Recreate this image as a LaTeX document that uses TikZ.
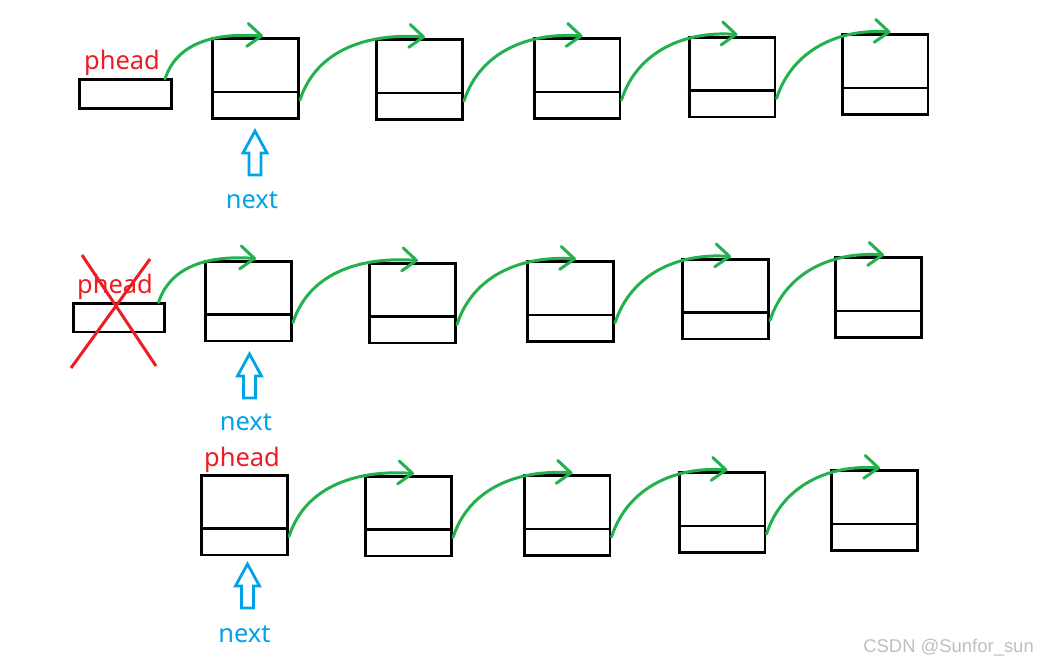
\documentclass[tikz,border=0pt]{standalone}
\usepackage{fontspec}
\setmainfont{Noto Sans}
\newfontfamily\markfont{Liberation Sans}
\usetikzlibrary{arrows.meta, positioning, calc}
\definecolor{linkgreen}{RGB}{34,177,76}
\definecolor{headred}{RGB}{237,28,36}
\definecolor{ptrblue}{RGB}{0,162,232}
\definecolor{markgray}{RGB}{190,190,190}

\tikzset{
  listnode/.style={draw, line width=1.7pt, minimum width=1.72cm, minimum height=1.6cm, inner sep=0pt},
  headbox/.style={draw, line width=1.7pt, minimum width=1.84cm, minimum height=0.58cm, inner sep=0pt},
  divline/.style={line width=1.6pt},
  link/.style={linkgreen, line width=1.7pt, line cap=round, -{Straight Barb[length=8pt,width=13pt,round]}},
  headlabel/.style={headred, font=\fontsize{14.5}{16}\selectfont, inner sep=0pt},
  ptrlabel/.style={ptrblue, font=\fontsize{14.5}{16}\selectfont, inner sep=0pt},
  cross/.style={headred, line width=1.7pt},
  pics/upptr/.style={code={
    \draw[ptrblue, line width=1.6pt, line join=miter]
      (0,0) -- (12,-22) -- (6,-22) -- (6,-44) -- (-6,-44) -- (-6,-22) -- (-12,-22) -- cycle;
  }}
}

\begin{document}
\begin{tikzpicture}[x=0.02cm, y=0.02cm]
  \useasboundingbox (0,0) rectangle (1049,-663);

  % row 1: the list with phead
  \node[headbox] (h1) at (125.5,-94) {};
  \node[headlabel, anchor=base] (t1) at (122,-69) {phead};
  \node[listnode] (n11) at (255.5,-78.5) {};
  \node[listnode] (n12) at (419.5,-79.5) {};
  \node[listnode] (n13) at (577,-78.5) {};
  \node[listnode] (n14) at (732,-77) {};
  \node[listnode] (n15) at (885,-74.5) {};
  \pic at (255,-131) {upptr};
  \node[ptrlabel, anchor=base] (q1) at (252,-208) {next};

  % row 2: phead is freed
  \node[headbox] (h2) at (119,-317.5) {};
  \node[headlabel, anchor=base] (t2) at (115,-293) {phead};
  \node[listnode] (n21) at (248.5,-301) {};
  \node[listnode] (n22) at (412.5,-303) {};
  \node[listnode] (n23) at (570.5,-301.5) {};
  \node[listnode] (n24) at (725.5,-299) {};
  \node[listnode] (n25) at (878.5,-297.5) {};
  \pic at (249.5,-354) {upptr};
  \node[ptrlabel, anchor=base] (q2) at (246,-430) {next};
  \draw[cross] (82,-255) -- (156,-366);
  \draw[cross] (150,-259) -- (71,-368);

  % row 3: phead moves to next
  \node[headlabel, anchor=base] (t3) at (242,-466) {phead};
  \node[listnode] (n31) at (244.5,-515) {};
  \node[listnode] (n32) at (408.5,-516) {};
  \node[listnode] (n33) at (567,-515.5) {};
  \node[listnode] (n34) at (722,-512.5) {};
  \node[listnode] (n35) at (874.5,-510.5) {};
  \pic at (247.5,-564) {upptr};
  \node[ptrlabel, anchor=base] (q3) at (244.5,-642) {next};

  % data / next fields
  \foreach \r in {1,2,3}
    \foreach \c in {1,...,5}
      \draw[divline] ($(n\r\c.south west)+(0,28)$) -- ($(n\r\c.south east)+(0,28)$);

  % links
  \draw[link] ($(h1.north east)+(-8,-1)$) to[out=72,in=176] ($(n11.north west)+(52,1)$);
  \draw[link] ($(h2.north east)+(-8,-1)$) to[out=72,in=176] ($(n21.north west)+(52,1)$);
  \foreach \r in {1,2,3}
    \foreach \a/\b in {1/2,2/3,3/4,4/5}
      \draw[link] ($(n\r\a.south east)+(0,20)$) to[out=72,in=176] ($(n\r\b.north west)+(50,1)$);

  \node[markgray, font=\markfont\fontsize{10.5}{12}\selectfont, anchor=base east] (wm) at (1040,-652) {CSDN @Sunfor\_sun};
\end{tikzpicture}
\end{document}
